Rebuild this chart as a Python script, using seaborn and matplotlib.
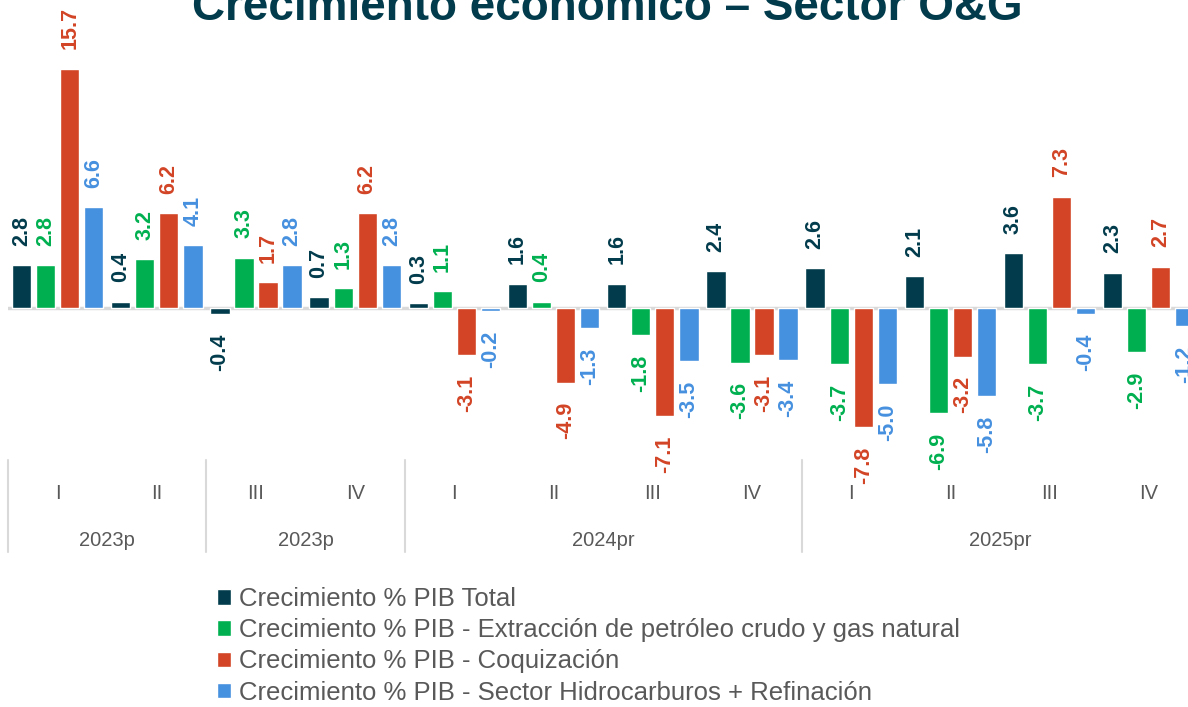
import pandas as pd
import matplotlib.pyplot as plt
import seaborn as sns
from matplotlib.patches import Patch

# Data
quarters = ["I", "II", "III", "IV", "I", "II", "III", "IV", "I", "II", "III", "IV"]
years = ["2023p", "2023p", "2024pr", "2025pr"]
year_centers = [0.5, 2.5, 5.5, 9.5]
year_bounds = [-0.5, 1.5, 3.5, 7.5, 11.5]

series_names = [
    "Crecimiento % PIB Total",
    "Crecimiento % PIB - Extracción de petróleo crudo y gas natural",
    "Crecimiento % PIB - Coquización",
    "Crecimiento % PIB - Sector Hidrocarburos + Refinación",
]
pib_total = [2.8, 0.4, -0.4, 0.7, 0.3, 1.6, 1.6, 2.4, 2.6, 2.1, 3.6, 2.3]
extraccion = [2.8, 3.2, 3.3, 1.3, 1.1, 0.4, -1.8, -3.6, -3.7, -6.9, -3.7, -2.9]
coquizacion = [15.7, 6.2, 1.7, 6.2, -3.1, -4.9, -7.1, -3.1, -7.8, -3.2, 7.3, 2.7]
hidrocarburos = [6.6, 4.1, 2.8, 2.8, -0.2, -1.3, -3.5, -3.4, -5.0, -5.8, -0.4, -1.2]

colors = ["#023C4C", "#00B050", "#D24425", "#4590DF"]

# long format table for seaborn
keys = [f"q{i}" for i in range(len(quarters))]
rows = []
for name, vals in zip(series_names, [pib_total, extraccion, coquizacion, hidrocarburos]):
    for k, v in zip(keys, vals):
        rows.append({"periodo": k, "serie": name, "valor": v})
df = pd.DataFrame(rows)

sns.set_style("white")
plt.rcParams["font.family"] = ["Liberation Sans", "DejaVu Sans"]

fig = plt.figure(figsize=(11.88, 7.07), dpi=100)
# axes runs a little past the right edge, like the cropped original
ax = fig.add_axes([8 / 1188, 1 - 460 / 707, 1190.4 / 1188, 460 / 707])

sns.barplot(data=df, x="periodo", y="valor", hue="serie", order=keys,
            hue_order=series_names, palette=colors, width=0.97, gap=0.2,
            saturation=1, legend=False, ax=ax)

ax.set_xlim(-0.5, 11.5)
ax.set_ylim(-9.97, 20.2)
ax.axhline(0, color="#D9D9D9", lw=2.5, zorder=0.5)

# data labels
for cont, col in zip(ax.containers, colors):
    ax.bar_label(cont, fmt="%.1f", rotation=90, padding=14, color=col,
                 fontsize=15.5, fontweight="bold")

for s in ax.spines.values():
    s.set_visible(False)
ax.set_yticks([])
ax.set_ylabel("")
ax.set_xlabel("")
ax.set_xticks(range(len(quarters)))
ax.set_xticklabels(quarters, color="#595959", fontsize=14.5)
ax.tick_params(axis="x", length=0, pad=17)

# year groups and separators
trans = ax.get_xaxis_transform()
for x in year_bounds:
    ax.plot([x, x], [0, -0.2], transform=trans, color="#D9D9D9", lw=1.5, clip_on=False)
for x, y in zip(year_centers, years):
    ax.text(x, -0.175, y, transform=trans, ha="center", va="center",
            color="#595959", fontsize=14.5)

fig.text(0.511, 1 - 20 / 707, "Crecimiento económico – Sector O&G", ha="center",
         va="baseline", fontsize=33, fontweight="bold", color="#023C4C")

handles = [Patch(facecolor=c) for c in colors]
fig.legend(handles, series_names, loc="upper left", bbox_to_anchor=(217 / 1188, 1 - 587 / 707),
           frameon=False, fontsize=18.5, handlelength=0.55, handleheight=0.55,
           handletextpad=0.3, labelspacing=0.28, borderpad=0, borderaxespad=0,
           labelcolor="#595959")

fig.savefig("out.png", dpi=100)
